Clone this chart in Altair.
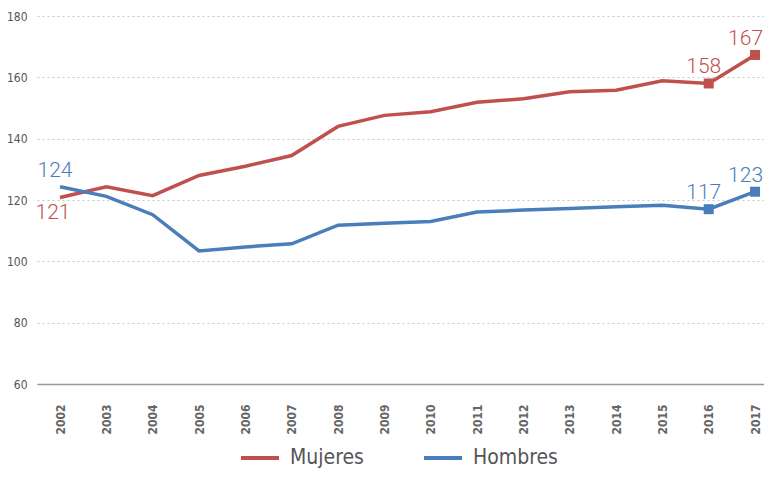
import altair as alt
import pandas as pd

years = [str(y) for y in range(2002, 2018)]
mujeres = [120.8, 124.3, 121.4, 128.0, 131.0, 134.5, 144.0, 147.6, 148.8, 151.9, 153.0, 155.3, 155.8, 158.9, 158.0, 167.3]
hombres = [124.3, 121.2, 115.2, 103.4, 104.7, 105.7, 111.8, 112.4, 113.0, 116.1, 116.7, 117.2, 117.8, 118.3, 117.0, 122.7]
series = ["Mujeres", "Hombres"]
colors = ["#C0504D", "#4A7EBB"]

rows = []
for s, vals in zip(series, [mujeres, hombres]):
    for y, v in zip(years, vals):
        rows.append({"Año": y, "valor": v, "Sexo": s})
df = pd.DataFrame(rows)

FONT = "DejaVu Sans Condensed"

color = alt.Color(
    "Sexo:N",
    scale=alt.Scale(domain=series, range=colors),
    legend=alt.Legend(
        title=None,
        orient="none",
        legendX=202,
        legendY=421,
        direction="horizontal",
        symbolType="stroke",
        symbolSize=1444,
        symbolStrokeWidth=4,
        labelFontSize=21,
        labelFont=FONT,
        labelFontWeight="normal",
        labelColor="#555555",
        labelOffset=9,
        columnPadding=52,
        padding=0,
        labelLimit=300,
    ),
)

base = alt.Chart(df).encode(
    x=alt.X(
        "Año:O",
        title=None,
        scale=alt.Scale(type="point", padding=0.345, align=0.72),
        axis=alt.Axis(
            labelAngle=-90,
            labelFontSize=12,
            labelFont=FONT,
            labelFontWeight="bold",
            labelColor="#666666",
            labelPadding=20,
            ticks=False,
            domainColor="#999999",
            domainWidth=1.5,
            grid=False,
        ),
    ),
    y=alt.Y(
        "valor:Q",
        title=None,
        scale=alt.Scale(domain=[60, 180], nice=False, zero=False),
        axis=alt.Axis(
            values=[60, 80, 100, 120, 140, 160, 180],
            domain=False,
            ticks=False,
            labelFontSize=12,
            labelFont=FONT,
            labelColor="#555555",
            labelPadding=10,
            gridColor="#C8C8C8",
            gridDash=[2, 3],
            gridWidth=1,
        ),
    ),
    color=color,
)

lines = base.mark_line(strokeWidth=3.5)
points = base.mark_point(shape="square", filled=True, size=100, opacity=1).transform_filter(
    alt.FieldOneOfPredicate(field="Año", oneOf=["2016", "2017"])
)

labelled = base.transform_calculate(txt="format(round(datum.valor), 'd')")
TXT = dict(fontSize=21, font="Roboto", fontWeight=300)

mid = labelled.transform_filter(
    "datum['Año'] == '2016' || (datum['Año'] == '2002' && datum.Sexo == 'Hombres')"
).mark_text(baseline="bottom", dy=-6, dx=-5, **TXT).encode(text="txt:N")
last = labelled.transform_filter(
    "datum['Año'] == '2017'"
).mark_text(baseline="bottom", align="right", dy=-6, dx=8, **TXT).encode(text="txt:N")
below = labelled.transform_filter(
    "datum.Sexo == 'Mujeres' && datum['Año'] == '2002'"
).mark_text(baseline="top", dy=4, dx=-7, **TXT).encode(text="txt:N")

chart = (
    alt.layer(lines, points, mid, last, below)
    .properties(
        width=727,
        height=368,
        autosize=alt.AutoSizeParams(type="none"),
        padding={"left": 29, "top": 8, "right": 0, "bottom": 86},
    )
    .configure_view(stroke=None)
)

chart.save("out.html", embed_options={"renderer": "svg", "actions": False})
